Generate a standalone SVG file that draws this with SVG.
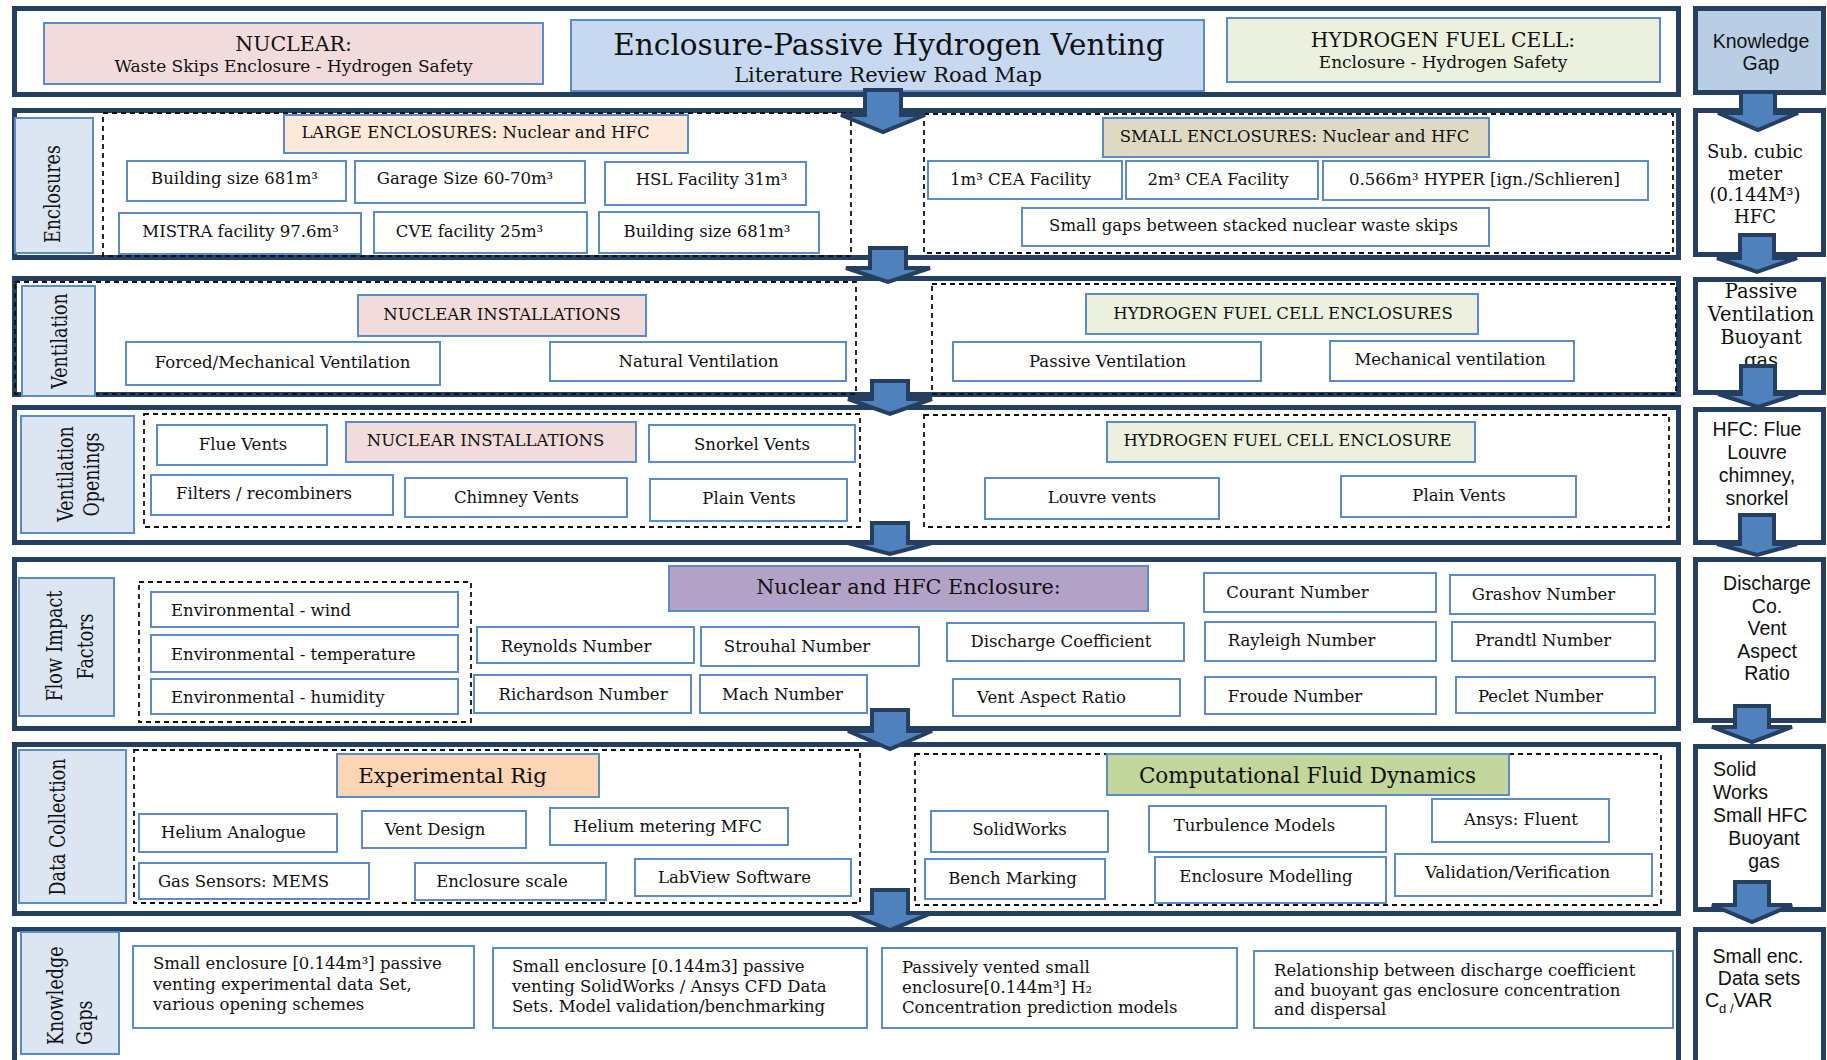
<svg xmlns="http://www.w3.org/2000/svg" width="1827" height="1060" viewBox="0 0 1827 1060">
<style>
.frame{fill:#fff;stroke:#243F60;stroke-width:5}
.rbox{fill:#fff;stroke:#243F60;stroke-width:5}
.box{fill:#fff;stroke:#5B8BC8;stroke-width:2}
.lbl{fill:#DCE6F2;stroke:#5B8BC8;stroke-width:2}
.dash{fill:none;stroke:#111;stroke-width:1.8;stroke-dasharray:5 4}
.arrow{fill:#4F81BD;stroke:#243F60;stroke-width:4;stroke-linejoin:miter}
text{font-family:"DejaVu Serif","Liberation Serif",serif;fill:#111}
.t{font-size:16.5px;text-anchor:middle}
.tl{font-size:16.5px;text-anchor:start}
.vl{font-size:17.5px;text-anchor:middle}
.vs{font-size:17.5px;text-anchor:start}
.sn{font-family:"Liberation Sans",Arial,sans-serif;font-size:19.5px;text-anchor:middle}
.snl{font-family:"Liberation Sans",Arial,sans-serif;font-size:19.5px;text-anchor:start}
.rs{font-size:18px;text-anchor:middle}
</style>

<!-- Row frames -->
<g id="frames">
<rect class="frame" x="14.5" y="8.5" width="1664" height="86"/>
<rect class="frame" x="14.5" y="110.5" width="1664" height="147"/>
<rect class="frame" x="14.5" y="278.5" width="1664" height="116"/>
<rect class="frame" x="14.5" y="407.5" width="1664" height="135"/>
<rect class="frame" x="14.5" y="559.5" width="1664" height="169"/>
<rect class="frame" x="14.5" y="744.5" width="1664" height="169"/>
<rect class="frame" x="14.5" y="929.5" width="1664" height="150"/>
</g>

<!-- Title row -->
<g id="nuclear-header">
<rect x="44" y="23" width="499" height="61" fill="#F2DCDB" stroke="#5B8BC8" stroke-width="2"/>
<text x="293.5" y="51" style="font-size:20.5px;text-anchor:middle">NUCLEAR:</text>
<text x="293.5" y="72" style="font-size:17px;text-anchor:middle">Waste Skips Enclosure - Hydrogen Safety</text>
</g>
<g id="title">
<rect x="571" y="20" width="633" height="71" fill="#C6D9F1" stroke="#5B8BC8" stroke-width="2"/>
<text x="889" y="55" style="font-size:29.5px;text-anchor:middle">Enclosure-Passive Hydrogen Venting</text>
<text x="888" y="82" style="font-size:21px;text-anchor:middle">Literature Review Road Map</text>
</g>
<g id="hfc-header">
<rect x="1227" y="18" width="433" height="64" fill="#EBF1DE" stroke="#5B8BC8" stroke-width="2"/>
<text x="1443" y="47" style="font-size:20.3px;text-anchor:middle">HYDROGEN FUEL CELL:</text>
<text x="1443" y="68" style="font-size:17px;text-anchor:middle">Enclosure - Hydrogen Safety</text>
</g>

<!-- Right column -->
<g id="kg-head">
<rect x="1695.5" y="8.5" width="128" height="84" fill="#B9CDE5" stroke="#243F60" stroke-width="5"/>
<text class="sn" x="1761" y="48">Knowledge</text>
<text class="sn" x="1761" y="70">Gap</text>
</g>
<g id="kg-sub">
<rect class="rbox" x="1695.5" y="110.5" width="128" height="144"/>
<text class="rs" x="1755" y="158">Sub. cubic</text>
<text class="rs" x="1755" y="179.5">meter</text>
<text class="rs" x="1755" y="201">(0.144M³)</text>
<text class="rs" x="1755" y="222.5">HFC</text>
</g>
<g id="kg-passive">
<rect class="rbox" x="1695.5" y="279.5" width="128" height="113"/>
<text x="1761" y="298" style="font-size:19.5px;text-anchor:middle">Passive</text>
<text x="1761" y="321" style="font-size:19.5px;text-anchor:middle">Ventilation</text>
<text x="1761" y="344" style="font-size:19.5px;text-anchor:middle">Buoyant</text>
<text x="1761" y="367" style="font-size:19.5px;text-anchor:middle">gas</text>
</g>
<g id="kg-openings">
<rect class="rbox" x="1695.5" y="409.5" width="128" height="133"/>
<text class="sn" x="1757" y="436">HFC: Flue</text>
<text class="sn" x="1757" y="459">Louvre</text>
<text class="sn" x="1757" y="482">chimney,</text>
<text class="sn" x="1757" y="505">snorkel</text>
</g>
<g id="kg-discharge">
<rect class="rbox" x="1695.5" y="559.5" width="128" height="161"/>
<text class="sn" x="1767" y="590">Discharge</text>
<text class="sn" x="1767" y="612.5">Co.</text>
<text class="sn" x="1767" y="635">Vent</text>
<text class="sn" x="1767" y="657.5">Aspect</text>
<text class="sn" x="1767" y="680">Ratio</text>
</g>
<g id="kg-solid">
<rect class="rbox" x="1695.5" y="746.5" width="128" height="163"/>
<text class="snl" x="1713" y="776">Solid</text>
<text class="snl" x="1713" y="799">Works</text>
<text class="snl" x="1713" y="822">Small HFC</text>
<text class="sn" x="1764" y="845">Buoyant</text>
<text class="sn" x="1764" y="868">gas</text>
</g>
<g id="kg-small">
<rect class="rbox" x="1695.5" y="929.5" width="128" height="150"/>
<text class="sn" x="1758" y="963">Small enc.</text>
<text class="sn" x="1759" y="985">Data sets</text>
<text class="snl" x="1705" y="1007">C<tspan font-size="13px" dy="6">d /</tspan><tspan dy="-6">VAR</tspan></text>
</g>

<!-- Row 2: Enclosures -->
<g id="lbl-enclosures">
<rect class="lbl" x="15" y="118" width="78" height="135"/>
<text class="vl" transform="translate(60,194) scale(1.3,1) rotate(-90)">Enclosures</text>
</g>
<g id="large-enclosures">
<rect class="dash" x="103" y="113" width="748" height="143"/>
<rect x="284" y="115" width="404" height="38" fill="#FDE9D9" stroke="#5B8BC8" stroke-width="2"/>
<text class="t" x="475.5" y="138">LARGE ENCLOSURES: Nuclear and HFC</text>
</g>
<g id="n-building1"><rect class="box" x="127" y="161" width="219" height="40"/><text class="t" x="234.5" y="184">Building size 681m³</text></g>
<g id="n-garage"><rect class="box" x="355" y="161" width="230" height="42"/><text class="t" x="465" y="184">Garage Size 60-70m³</text></g>
<g id="n-hsl"><rect class="box" x="605" y="162" width="201" height="43"/><text class="t" x="711.5" y="185">HSL Facility 31m³</text></g>
<g id="n-mistra"><rect class="box" x="119" y="213" width="242" height="41"/><text class="t" x="240.5" y="237">MISTRA facility 97.6m³</text></g>
<g id="n-cve"><rect class="box" x="374" y="212" width="213" height="41"/><text class="t" x="469.5" y="237">CVE facility 25m³</text></g>
<g id="n-building2"><rect class="box" x="599" y="212" width="220" height="41"/><text class="t" x="707" y="237">Building size 681m³</text></g>
<g id="small-enclosures">
<rect class="dash" x="924" y="114" width="749" height="139"/>
<rect x="1103" y="118" width="386" height="39" fill="#DDD9C3" stroke="#5B8BC8" stroke-width="2"/>
<text class="t" x="1294.5" y="142">SMALL ENCLOSURES: Nuclear and HFC</text>
</g>
<g id="n-cea1"><rect class="box" x="928" y="161" width="194" height="38"/><text class="t" x="1020.5" y="185">1m³ CEA Facility</text></g>
<g id="n-cea2"><rect class="box" x="1126" y="161" width="192" height="38"/><text class="t" x="1218" y="185">2m³ CEA Facility</text></g>
<g id="n-hyper"><rect class="box" x="1323" y="161" width="325" height="39"/><text class="t" x="1484.5" y="185">0.566m³ HYPER [ign./Schlieren]</text></g>
<g id="n-gaps"><rect class="box" x="1022" y="208" width="467" height="38"/><text class="t" x="1253.5" y="231">Small gaps between stacked nuclear waste skips</text></g>

<!-- Row 3: Ventilation -->
<g id="ventilation-nuclear">
<rect class="dash" x="15" y="282" width="841" height="112"/>
</g>
<g id="lbl-ventilation">
<rect class="lbl" x="22" y="286" width="73" height="110"/>
<text class="vl" transform="translate(67,341) scale(1.3,1) rotate(-90)">Ventilation</text>
</g>
<g id="n-nuc-inst1"><rect x="358" y="295" width="288" height="41" fill="#F2DCDB" stroke="#5B8BC8" stroke-width="2"/><text class="t" x="502" y="320">NUCLEAR INSTALLATIONS</text></g>
<g id="n-forced"><rect class="box" x="126" y="342" width="314" height="43"/><text class="t" x="282.5" y="368">Forced/Mechanical Ventilation</text></g>
<g id="n-natural"><rect class="box" x="550" y="342" width="296" height="39"/><text class="t" x="698.5" y="367">Natural Ventilation</text></g>
<g id="ventilation-hfc">
<rect class="dash" x="932" y="284" width="744" height="110"/>
<rect x="1086" y="294" width="392" height="40" fill="#EBF1DE" stroke="#5B8BC8" stroke-width="2"/>
<text class="t" x="1283" y="319">HYDROGEN FUEL CELL ENCLOSURES</text>
</g>
<g id="n-passive"><rect class="box" x="953" y="342" width="308" height="39"/><text class="t" x="1107.5" y="367">Passive Ventilation</text></g>
<g id="n-mechanical"><rect class="box" x="1330" y="341" width="244" height="40"/><text class="t" x="1450" y="365">Mechanical ventilation</text></g>

<!-- Row 4: Ventilation Openings -->
<g id="lbl-openings">
<rect class="lbl" x="21" y="416" width="113" height="117"/>
<text class="vl" transform="translate(73,474) scale(1.3,1) rotate(-90)">Ventilation</text>
<text class="vl" transform="translate(99,474.5) scale(1.3,1) rotate(-90)">Openings</text>
</g>
<g id="openings-nuclear"><rect class="dash" x="144" y="414" width="716" height="113"/></g>
<g id="n-flue"><rect class="box" x="157" y="425" width="170" height="40"/><text class="t" x="243" y="450">Flue Vents</text></g>
<g id="n-nuc-inst2"><rect x="346" y="422" width="290" height="40" fill="#F2DCDB" stroke="#5B8BC8" stroke-width="2"/><text class="t" x="485.5" y="446">NUCLEAR INSTALLATIONS</text></g>
<g id="n-snorkel"><rect class="box" x="649" y="425" width="206" height="37"/><text class="t" x="752" y="450">Snorkel Vents</text></g>
<g id="n-filters"><rect class="box" x="151" y="475" width="242" height="40"/><text class="t" x="264" y="499">Filters / recombiners</text></g>
<g id="n-chimney"><rect class="box" x="405" y="478" width="222" height="39"/><text class="t" x="516.5" y="503">Chimney Vents</text></g>
<g id="n-plain1"><rect class="box" x="650" y="479" width="197" height="42"/><text class="t" x="749" y="504">Plain Vents</text></g>
<g id="openings-hfc">
<rect class="dash" x="924" y="415" width="745" height="112"/>
<rect x="1107" y="422" width="368" height="40" fill="#EBF1DE" stroke="#5B8BC8" stroke-width="2"/>
<text class="t" x="1287.5" y="446">HYDROGEN FUEL CELL ENCLOSURE</text>
</g>
<g id="n-louvre"><rect class="box" x="985" y="478" width="234" height="41"/><text class="t" x="1102" y="503">Louvre vents</text></g>
<g id="n-plain2"><rect class="box" x="1341" y="476" width="235" height="41"/><text class="t" x="1459" y="501">Plain Vents</text></g>

<!-- Row 5: Flow Impact Factors -->
<g id="lbl-flow">
<rect class="lbl" x="19" y="578" width="95" height="138"/>
<text class="vl" transform="translate(62,646) scale(1.3,1) rotate(-90)">Flow Impact</text>
<text class="vl" transform="translate(93,646.5) scale(1.3,1) rotate(-90)">Factors</text>
</g>
<g id="environmental"><rect class="dash" x="139" y="582" width="332" height="140"/></g>
<g id="n-wind"><rect class="box" x="151" y="592" width="307" height="35"/><text class="tl" x="171" y="616">Environmental - wind</text></g>
<g id="n-temp"><rect class="box" x="151" y="635" width="307" height="37"/><text class="tl" x="171" y="660">Environmental - temperature</text></g>
<g id="n-humid"><rect class="box" x="151" y="679" width="307" height="35"/><text class="tl" x="171" y="703">Environmental - humidity</text></g>
<g id="n-nuc-hfc"><rect x="669" y="566" width="479" height="45" fill="#B3A2C7" stroke="#5B8BC8" stroke-width="2"/><text x="908.5" y="594" style="font-size:20.8px;text-anchor:middle">Nuclear and HFC Enclosure:</text></g>
<g id="n-reynolds"><rect class="box" x="477" y="627" width="217" height="36"/><text class="t" x="576" y="652">Reynolds Number</text></g>
<g id="n-strouhal"><rect class="box" x="701" y="627" width="218" height="39"/><text class="t" x="797" y="652">Strouhal Number</text></g>
<g id="n-richardson"><rect class="box" x="474" y="675" width="217" height="38"/><text class="t" x="583" y="700">Richardson Number</text></g>
<g id="n-mach"><rect class="box" x="700" y="675" width="167" height="38"/><text class="t" x="782.5" y="700">Mach Number</text></g>
<g id="n-discharge"><rect class="box" x="947" y="623" width="237" height="38"/><text class="t" x="1061" y="647">Discharge Coefficient</text></g>
<g id="n-var"><rect class="box" x="953" y="679" width="227" height="37"/><text class="t" x="1051.5" y="703">Vent Aspect Ratio</text></g>
<g id="n-courant"><rect class="box" x="1204" y="573" width="232" height="39"/><text class="t" x="1297.5" y="598">Courant Number</text></g>
<g id="n-grashov"><rect class="box" x="1450" y="575" width="205" height="39"/><text class="t" x="1543.5" y="600">Grashov Number</text></g>
<g id="n-rayleigh"><rect class="box" x="1205" y="622" width="231" height="39"/><text class="t" x="1301.5" y="646">Rayleigh Number</text></g>
<g id="n-prandtl"><rect class="box" x="1452" y="622" width="203" height="39"/><text class="t" x="1543" y="646">Prandtl Number</text></g>
<g id="n-froude"><rect class="box" x="1205" y="677" width="231" height="37"/><text class="t" x="1295" y="702">Froude Number</text></g>
<g id="n-peclet"><rect class="box" x="1456" y="677" width="199" height="36"/><text class="t" x="1540.5" y="702">Peclet Number</text></g>

<!-- Row 6: Data Collection -->
<g id="lbl-data">
<rect class="lbl" x="19" y="750" width="107" height="153"/>
<text class="vl" transform="translate(65,827) scale(1.3,1) rotate(-90)">Data Collection</text>
</g>
<g id="experimental-rig">
<rect class="dash" x="134" y="750" width="726" height="153"/>
<rect x="337" y="754" width="262" height="43" fill="#FCD5B5" stroke="#5B8BC8" stroke-width="2"/>
<text x="452.5" y="783" style="font-size:21.3px;text-anchor:middle">Experimental Rig</text>
</g>
<g id="n-helium"><rect class="box" x="139" y="814" width="198" height="38"/><text class="t" x="233.5" y="838">Helium Analogue</text></g>
<g id="n-ventdesign"><rect class="box" x="362" y="811" width="164" height="37"/><text class="t" x="435" y="835">Vent Design</text></g>
<g id="n-mfc"><rect class="box" x="550" y="808" width="238" height="37"/><text class="t" x="667.5" y="832">Helium metering MFC</text></g>
<g id="n-sensors"><rect class="box" x="139" y="863" width="230" height="36"/><text class="t" x="243.5" y="887">Gas Sensors: MEMS</text></g>
<g id="n-scale"><rect class="box" x="415" y="863" width="191" height="37"/><text class="t" x="502" y="887">Enclosure scale</text></g>
<g id="n-labview"><rect class="box" x="635" y="859" width="216" height="37"/><text class="t" x="734.5" y="883">LabView Software</text></g>
<g id="cfd">
<rect class="dash" x="915" y="754" width="746" height="151"/>
<rect x="1107" y="754" width="402" height="41" fill="#C3D69B" stroke="#5B8BC8" stroke-width="2"/>
<text x="1307.5" y="783" style="font-size:21.5px;text-anchor:middle">Computational Fluid Dynamics</text>
</g>
<g id="n-solidworks"><rect class="box" x="931" y="811" width="177" height="41"/><text class="t" x="1019.5" y="835">SolidWorks</text></g>
<g id="n-turbulence"><rect class="box" x="1149" y="806" width="237" height="46"/><text class="t" x="1254.5" y="831">Turbulence Models</text></g>
<g id="n-ansys"><rect class="box" x="1432" y="799" width="177" height="43"/><text class="t" x="1521" y="825">Ansys: Fluent</text></g>
<g id="n-bench"><rect class="box" x="925" y="859" width="180" height="40"/><text class="t" x="1012.5" y="884">Bench Marking</text></g>
<g id="n-encmodel"><rect class="box" x="1155" y="857" width="231" height="46"/><text class="t" x="1266" y="882">Enclosure Modelling</text></g>
<g id="n-validation"><rect class="box" x="1395" y="854" width="257" height="42"/><text class="t" x="1517.5" y="878">Validation/Verification</text></g>

<!-- Row 7: Knowledge Gaps -->
<g id="lbl-gaps">
<rect class="lbl" x="21" y="932" width="98" height="122"/>
<text class="vs" transform="translate(63,1045) scale(1.3,1) rotate(-90)">Knowledge</text>
<text class="vs" transform="translate(92,1045) scale(1.3,1) rotate(-90)">Gaps</text>
</g>
<g id="n-gap1"><rect class="box" x="133" y="946" width="341" height="82"/>
<text class="tl" x="153" y="969">Small enclosure [0.144m³] passive</text>
<text class="tl" x="153" y="990">venting experimental data Set,</text>
<text class="tl" x="153" y="1010">various opening schemes</text></g>
<g id="n-gap2"><rect class="box" x="493" y="948" width="374" height="80"/>
<text class="tl" x="512" y="972">Small enclosure [0.144m3] passive</text>
<text class="tl" x="512" y="992">venting SolidWorks / Ansys CFD Data</text>
<text class="tl" x="512" y="1012">Sets. Model validation/benchmarking</text></g>
<g id="n-gap3"><rect class="box" x="882" y="948" width="355" height="80"/>
<text class="tl" x="902" y="973">Passively vented small</text>
<text class="tl" x="902" y="993">enclosure[0.144m³] H₂</text>
<text class="tl" x="902" y="1013">Concentration prediction models</text></g>
<g id="n-gap4"><rect class="box" x="1254" y="951" width="419" height="77"/>
<text class="tl" x="1274" y="976">Relationship between discharge coefficient</text>
<text class="tl" x="1274" y="996">and buoyant gas enclosure concentration</text>
<text class="tl" x="1274" y="1015">and dispersal</text></g>

<!-- Connectors -->
<g id="connectors">
<polygon class="arrow" points="865,90 901,90 901,115 925,115 883,132 841,115 865,115"/>
<polygon class="arrow" points="870,248 906,248 906,268 930,268 888,282 846,268 870,268"/>
<polygon class="arrow" points="872,381 908,381 908,399 932,399 890,414 848,399 872,399"/>
<polygon class="arrow" points="872,523 908,523 908,543 932,543 890,554 848,543 872,543"/>
<polygon class="arrow" points="872,710 908,710 908,731 932,731 890,749 848,731 872,731"/>
<polygon class="arrow" points="872,890 908,890 908,913 932,913 890,930 848,913 872,913"/>
<polygon class="arrow" points="1741,92 1775,92 1775,113 1798,113 1758,130 1718,113 1741,113"/>
<polygon class="arrow" points="1740,235 1774,235 1774,258 1797,258 1757,272 1717,258 1740,258"/>
<polygon class="arrow" points="1741,366 1775,366 1775,394 1798,394 1758,407 1718,394 1741,394"/>
<polygon class="arrow" points="1740,515 1774,515 1774,544 1797,544 1757,555 1717,544 1740,544"/>
<polygon class="arrow" points="1735,706 1769,706 1769,727 1792,727 1752,742 1712,727 1735,727"/>
<polygon class="arrow" points="1735,882 1769,882 1769,905 1792,905 1752,922 1712,905 1735,905"/>
</g>
</svg>
